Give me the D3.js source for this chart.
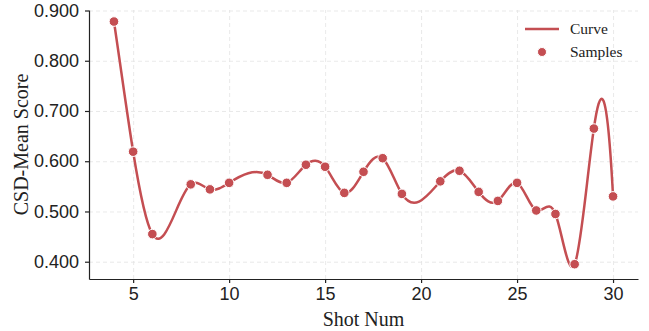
<!DOCTYPE html>
<html>
<head>
<meta charset="utf-8">
<script src="https://cdn.jsdelivr.net/npm/d3@7"></script>
<style>
  body { margin: 0; background: #fff; }
  svg { font-family: "Liberation Serif", "DejaVu Serif", serif; }
  .grid line { stroke: #e3e3e3; stroke-dasharray: 4,3; stroke-width: 0.8; }
  .grid .domain { display: none; }
  .axis text { font-size: 18px; fill: #222; }
  .axis line, .axis path { stroke: #222; stroke-width: 1.2; }
</style>
</head>
<body>
<svg id="chart"></svg>
<script>
// data
const shots = [4, 5, 6, 8, 9, 10, 12, 13, 14, 15, 16, 17, 18, 19, 21, 22, 23, 24, 25, 26, 27, 28, 29, 30];
const scores = [0.878, 0.619, 0.455, 0.554, 0.544, 0.557, 0.573, 0.557, 0.593, 0.589, 0.537, 0.579,
                0.606, 0.535, 0.560, 0.581, 0.539, 0.521, 0.557, 0.502, 0.495, 0.395, 0.665, 0.530];
const xTicks = [5, 10, 15, 20, 25, 30];
const yTicks = [0.4, 0.5, 0.6, 0.7, 0.8, 0.9];
const legendLabels = ['Curve', 'Samples'];

const points = shots.map((s, i) => ({shot: s, score: scores[i]}));

const W = 649, H = 331;
const margin = {top: 10, right: 11, bottom: 52, left: 89};
const width = W - margin.left - margin.right;
const height = H - margin.top - margin.bottom;
const red = '#c44e52';

const x = d3.scaleLinear().domain([2.7, 31.3]).range([0, width]);
const y = d3.scaleLinear().domain([0.3656, 0.901]).range([height, 0]);

// cubic spline in x (not-a-knot ends), drawn as bezier segments
function SplineX(context) { this._context = context; }
SplineX.prototype = {
  areaStart() { this._line = 0; },
  areaEnd() { this._line = NaN; },
  lineStart() { this._xs = []; this._ys = []; },
  point(px, py) { this._xs.push(+px); this._ys.push(+py); },
  lineEnd() {
    const xs = this._xs, ys = this._ys, n = xs.length, ctx = this._context;
    if (!n) return;
    ctx.moveTo(xs[0], ys[0]);
    if (n < 4) { for (let i = 1; i < n; i++) ctx.lineTo(xs[i], ys[i]); return; }
    const h = [], s = [];
    for (let i = 0; i < n - 1; i++) { h.push(xs[i + 1] - xs[i]); s.push((ys[i + 1] - ys[i]) / h[i]); }
    // tridiagonal system for slopes
    const a = new Array(n).fill(0), b = new Array(n).fill(0), c = new Array(n).fill(0), r = new Array(n).fill(0);
    let d = xs[2] - xs[0];
    b[0] = h[1]; c[0] = d;
    r[0] = ((h[0] + 2 * d) * h[1] * s[0] + h[0] * h[0] * s[1]) / d;
    for (let i = 1; i < n - 1; i++) {
      a[i] = h[i]; b[i] = 2 * (h[i - 1] + h[i]); c[i] = h[i - 1];
      r[i] = 3 * (h[i] * s[i - 1] + h[i - 1] * s[i]);
    }
    d = xs[n - 1] - xs[n - 3];
    a[n - 1] = d; b[n - 1] = h[n - 3];
    r[n - 1] = (h[n - 2] * h[n - 2] * s[n - 3] + (2 * d + h[n - 2]) * h[n - 3] * s[n - 2]) / d;
    for (let i = 1; i < n; i++) {
      const w = a[i] / b[i - 1];
      b[i] -= w * c[i - 1];
      r[i] -= w * r[i - 1];
    }
    const m = new Array(n);
    m[n - 1] = r[n - 1] / b[n - 1];
    for (let i = n - 2; i >= 0; i--) m[i] = (r[i] - c[i] * m[i + 1]) / b[i];
    for (let i = 0; i < n - 1; i++) {
      const k = h[i] / 3;
      ctx.bezierCurveTo(xs[i] + k, ys[i] + m[i] * k, xs[i + 1] - k, ys[i + 1] - m[i + 1] * k, xs[i + 1], ys[i + 1]);
    }
  }
};
const curveSplineX = ctx => new SplineX(ctx);

const svg = d3.select('#chart').attr('width', W).attr('height', H);
const g = svg.append('g').attr('transform', 'translate(' + margin.left + ',' + margin.top + ')');

// grid
g.append('g')
  .attr('class', 'grid')
  .attr('transform', 'translate(0,' + height + ')')
  .call(d3.axisBottom(x).tickValues(xTicks).tickSize(-height).tickFormat(''));
g.append('g')
  .attr('class', 'grid')
  .call(d3.axisLeft(y).tickValues(yTicks).tickSize(-width).tickFormat(''));

// curve
const line = d3.line()
  .x(d => x(d.shot))
  .y(d => y(d.score))
  .curve(curveSplineX);

g.append('path')
  .datum(points)
  .attr('fill', 'none')
  .attr('stroke', red)
  .attr('stroke-width', 2.5)
  .attr('d', line);

g.selectAll('.dot')
  .data(points)
  .enter()
  .append('circle')
  .attr('class', 'dot')
  .attr('cx', d => x(d.shot))
  .attr('cy', d => y(d.score))
  .attr('r', 4.8)
  .attr('fill', red)
  .attr('stroke', '#fff')
  .attr('stroke-width', 1);

// axes
g.append('g')
  .attr('class', 'axis')
  .attr('transform', 'translate(0,' + height + ')')
  .call(d3.axisBottom(x).tickValues(xTicks).tickSize(4).tickSizeOuter(0).tickPadding(4));
g.append('g')
  .attr('class', 'axis')
  .call(d3.axisLeft(y).tickValues(yTicks).tickSize(4).tickSizeOuter(0).tickPadding(6).tickFormat(d3.format('.3f')));

// axis titles
g.append('text')
  .attr('x', width / 2)
  .attr('y', height + 47)
  .attr('text-anchor', 'middle')
  .style('font-size', '20px')
  .style('fill', '#222')
  .text('Shot Num');
g.append('text')
  .attr('transform', 'translate(' + (-61.5) + ',' + (height / 2) + ') rotate(-90)')
  .attr('text-anchor', 'middle')
  .style('font-size', '20px')
  .style('fill', '#222')
  .text('CSD-Mean Score');

// legend
const lg = svg.append('g').attr('transform', 'translate(525,29)');
lg.append('line')
  .attr('x1', 0).attr('x2', 34)
  .attr('stroke', red).attr('stroke-width', 2.5);
lg.append('circle')
  .attr('cx', 17).attr('cy', 23).attr('r', 4.5)
  .attr('fill', red).attr('stroke', '#fff').attr('stroke-width', 1);
lg.selectAll('.legText')
  .data(legendLabels)
  .enter()
  .append('text')
  .attr('x', 45)
  .attr('y', (d, i) => i * 23 + 5)
  .style('font-size', '15.5px')
  .style('fill', '#222')
  .text(d => d);
</script>
</body>
</html>
